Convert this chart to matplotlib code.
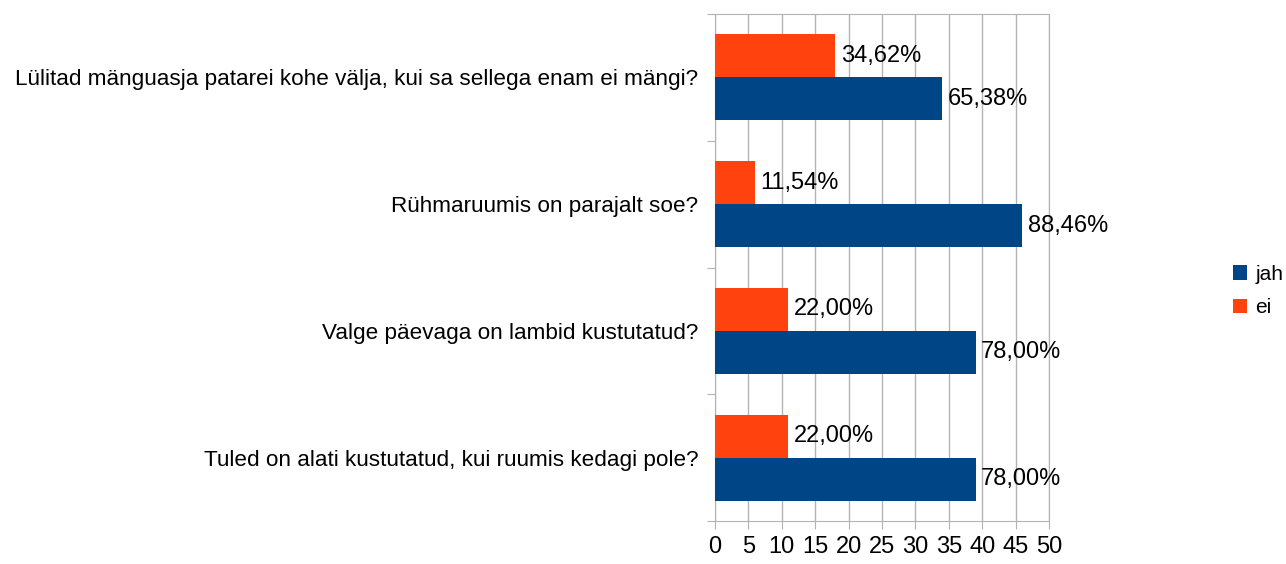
import matplotlib.pyplot as plt
import numpy as np

questions = ['Lülitad mänguasja patarei kohe välja, kui sa sellega enam ei mängi?',
             'Rühmaruumis on parajalt soe?',
             'Valge päevaga on lambid kustutatud?',
             'Tuled on alati kustutatud, kui ruumis kedagi pole?']
jah = [34, 46, 39, 39]
ei = [18, 6, 11, 11]
jah_pct = ['65,38%', '88,46%', '78,00%', '78,00%']
ei_pct = ['34,62%', '11,54%', '22,00%', '22,00%']
xticks = list(range(0, 51, 5))

plt.rcParams['font.family'] = ['Liberation Sans', 'DejaVu Sans']
blue = '#004586'
orange = '#ff420e'
grey = '#b3b3b3'

fig = plt.figure(figsize=(12.86, 5.64), dpi=100)
ax = fig.add_axes([0.556, 0.0762, 0.2597, 0.8990])

y = np.arange(len(questions))
h = 0.34
b1 = ax.barh(y - h / 2, ei, height=h, color=orange, label='ei', zorder=3)
b2 = ax.barh(y + h / 2, jah, height=h, color=blue, label='jah', zorder=3)

for bar, t in zip(b1, ei_pct):
    ax.annotate(t, (bar.get_width(), bar.get_y() + h / 2), xytext=(4, 0),
                textcoords='offset points', va='center', ha='left', fontsize=17)
for bar, t in zip(b2, jah_pct):
    ax.annotate(t, (bar.get_width(), bar.get_y() + h / 2), xytext=(4, 0),
                textcoords='offset points', va='center', ha='left', fontsize=17)

ax.set_xlim(0, 50)
ax.set_ylim(len(questions) - 0.5, -0.5)
ax.set_xticks(xticks)
ax.set_xticklabels([str(v) for v in xticks], fontsize=17)
ax.set_yticks(np.arange(len(questions) + 1) - 0.5)
ax.set_yticklabels([])
ax.set_yticks(y, minor=True)
ax.set_yticklabels(questions, minor=True, fontsize=16.2)
ax.tick_params(axis='y', which='minor', length=0, pad=12)
ax.tick_params(axis='y', which='major', length=6, color=grey)
ax.tick_params(axis='x', length=6, color=grey, pad=5)
ax.grid(axis='x', color=grey, linewidth=1, zorder=0)
for s in ax.spines.values():
    s.set_color(grey)

handles, labels = ax.get_legend_handles_labels()
leg = fig.legend(handles[::-1], labels[::-1], loc='center left',
                 bbox_to_anchor=(0.952, 0.484), frameon=False, fontsize=15,
                 handlelength=0.7, handleheight=0.7, handletextpad=0.4,
                 labelspacing=0.7, borderaxespad=0)

fig.savefig('out.png', dpi=100)
